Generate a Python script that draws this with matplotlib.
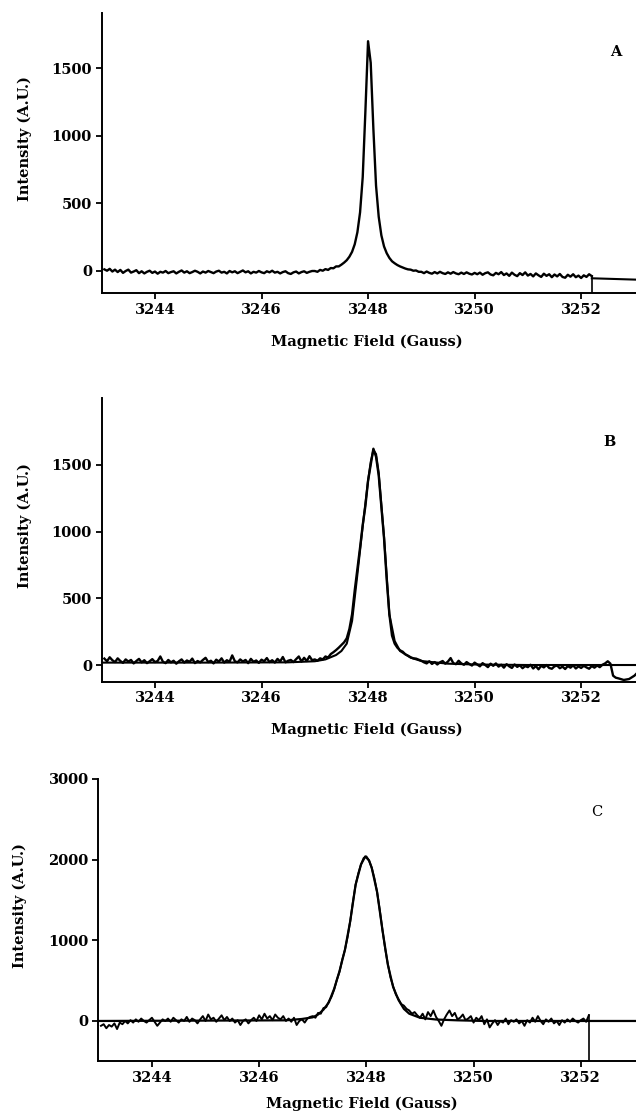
import numpy as np
import matplotlib
matplotlib.use("Agg")
import matplotlib.pyplot as plt

# ---------------- data ----------------
field_ticks = [3244, 3246, 3248, 3250, 3252]
field_tick_labels = ["3244", "3246", "3248", "3250", "3252"]
panel_letters = ["A", "B", "C"]
x_label = "Magnetic Field (Gauss)"
y_label = "Intensity (A.U.)"

# Panel A : measured trace, sampled every 0.05 G from 3243.05 to 3252.20
a_start, a_stop = 3243.05, 3252.20
a_base_left = [10, 0, 14, -6, 8, -10, 6, -16, -2, 8, -14, -6, 4, -18, -4, -20, -8, 0, -16, -6,
               -22, -8, -14, -2, -18, -10, -4, -20, -8, 2, -14, -4, -18, -10, 0, -8, -20, -6, -14, -2,
               -10, -18, -6, 0, -14, -8, -20, -2, -12, -4, -18, -8, 2, -12, -4, -20, -8, -14, -2, -12,
               -18, -4, -12, 0, -14, -8, -20, -10, -4, -18, -24, -12, -6, -20, -10, -4, -16, -8, -2]
a_peak = [-2, -8, 6, 0, 12, 6, 20, 18, 32, 32,
          45, 60, 78, 104, 140, 196, 285, 432, 694, 1180,
          1700, 1540, 1050, 630, 400, 262, 180, 130, 95, 70,
          55, 42, 32, 24, 16, 10, 8, 0, 2, -8]
a_base_right = [-8, -18, -6, -16, -22, -10, -20, -8, -18, -24, -12, -22, -10, -20, -26, -14, -24, -12, -22, -28,
                -16, -26, -14, -30, -18, -12, -28, -34, -16, -26, -10, -32, -20, -38, -14, -30, -40, -18, -32, -12,
                -36, -24, -42, -20, -34, -46, -22, -38, -26, -48, -28, -42, -24, -46, -52, -30, -44, -26, -48, -36,
                -54, -34, -46, -26, -40]
a_fit_x = [3252.20, 3253.03]
a_fit_y = [-56, -66]
a_drop_x = [3252.20, 3252.20]
a_drop_y = [-40, -165]

# Panel B : measured trace every 0.05 G from 3243.05 to 3252.50, then tail
b_start, b_stop = 3243.05, 3252.50
b_base_left = [48, 28, 58, 36, 22, 50, 30, 16, 42, 26, 38, 12, 30, 46, 20, 36, 14, 28, 44, 22,
               30, 64, 24, 14, 38, 20, 32, 10, 28, 42, 18, 34, 24, 48, 14, 30, 20, 38, 54, 22,
               32, 12, 40, 26, 50, 18, 36, 24, 72, 28, 20, 42, 26, 38, 14, 46, 24, 34, 16, 40,
               28, 52, 22, 36, 18, 46, 26, 60, 20, 32, 38, 22, 44, 64, 26, 54, 30, 66, 36]
b_peak = [42, 32, 50, 42, 64, 56, 82, 96, 112, 130,
          150, 170, 200, 270, 380, 560, 720, 880, 1050, 1190,
          1380, 1500, 1620, 1560, 1420, 1180, 950, 640, 380, 220,
          160, 130, 110, 100, 80, 70, 58, 50, 48, 40]
b_base_right = [32, 20, 12, 28, 8, 22, 4, 20, 30, 10, 26, 52, 14, 6, 32, 12, 2, 22, 8, -4,
                18, 4, -10, 14, 0, -16, 10, -6, 12, -12, 2, -20, 6, -10, -22, 4, -14, -2, -24, -8,
                -16, 2, -26, -8, -32, -6, -18, 0, -22, -28, -10, -4, -24, -12, -30, -8, -20, -2, -26, -10,
                -22, -6, -18, -28, -8, -20, -4, -16, 2, 12, 28]
b_tail_x = [3252.55, 3252.60, 3252.65, 3252.70, 3252.80, 3252.90, 3253.00, 3253.05]
b_tail_y = [10, -80, -95, -100, -112, -105, -80, -60]
b_fit_x = [3243.0, 3245.0, 3246.5, 3247.0, 3247.2, 3247.4, 3247.5, 3247.6, 3247.7, 3247.8,
           3247.9, 3248.0, 3248.05, 3248.1, 3248.15, 3248.2, 3248.3, 3248.4, 3248.5, 3248.6,
           3248.8, 3249.0, 3249.5, 3250.0, 3251.0, 3253.05]
b_fit_y = [18, 18, 20, 28, 42, 75, 105, 160, 330, 680,
           1040, 1380, 1520, 1610, 1580, 1440, 960, 380, 180, 105,
           55, 30, 10, 4, 0, 0]

# Panel C : measured trace every 0.05 G from 3243.05 to 3252.15
c_start, c_stop = 3243.05, 3252.15
c_base_left = [-60, -40, -90, -50, -70, -30, -100, -20, -40, 0, -30, 10, -20, 20, -10, 30, 0, -20, 10, 40,
               -10, -60, -20, 20, 0, 30, -10, 40, 10, -20, 20, 0, 50, -10, 30, 10, -30, 20, 60, 0,
               80, 20, 40, -10, 30, 70, 10, 50, 0, 30, -20, 10, -50, 0, 20, -30, 10, 40, 0, 70,
               20, 90, 30, 60, 10, 80, 40, 20, 60, 0, 30, -10, 40, -50, 0, 20, -20, 30, 50]
c_peak = [60, 40, 100, 90, 160, 170, 240, 300, 390, 510, 610, 760, 880, 1040, 1240, 1480, 1690, 1830, 1940, 2020,
          2040, 1990, 1900, 1770, 1600, 1380, 1130, 900, 710, 540, 430, 330, 270, 210, 190, 150, 130, 90, 110, 70]
c_base_right = [40, 90, 20, 110, 60, 130, 50, 0, -60, 20, 80, 130, 60, 100, 20, 40, 80, 10, 30, 60,
                -20, 40, 10, 60, -40, 20, -80, -30, 10, -50, 0, -20, 30, -40, 10, -10, 20, -30, 0, -60,
                10, -20, 40, -10, 60, 0, -40, 20, -10, 30, -30, 0, -50, 10, -20, 20, -10, 30, 0, -20,
                10, 30, -10, 70]
c_fit_x = [3243.0, 3246.5, 3246.8, 3247.0, 3247.1, 3247.2, 3247.3, 3247.4, 3247.5, 3247.6,
           3247.7, 3247.8, 3247.9, 3247.98, 3248.05, 3248.1, 3248.2, 3248.3, 3248.4, 3248.5,
           3248.6, 3248.7, 3248.8, 3249.0, 3249.3, 3249.7, 3250.2, 3253.06]
c_fit_y = [0, 8, 25, 45, 80, 140, 230, 400, 620, 880,
           1240, 1690, 1940, 2040, 1990, 1900, 1600, 1130, 700, 420,
           260, 150, 90, 40, 18, 8, 0, 0]
c_drop_x = [3252.15, 3252.15]
c_drop_y = [70, -500]

# ---------------- figure ----------------
plt.rcParams['font.family'] = ['DejaVu Serif']
plt.rcParams['font.weight'] = 'bold'

W, H = 636, 1114
fig = plt.figure(figsize=(W / 100, H / 100), dpi=100)


def px_axes(left, top, bottom, right=W):
    return fig.add_axes([left / W, 1 - bottom / H, (right - left) / W, (bottom - top) / H])


axA = px_axes(101.7, 13, 293)
axB = px_axes(101.7, 398, 681.7)
axC = px_axes(98.3, 779, 1061.3)

LW = 1.7
col = "black"

a_vals = a_base_left + a_peak + a_base_right
a_x = np.linspace(a_start, a_stop, len(a_vals))
axA.plot(a_x, a_vals, color=col, lw=LW, solid_joinstyle="round")
axA.plot(a_fit_x, a_fit_y, color=col, lw=1.5)
axA.plot(a_drop_x, a_drop_y, color=col, lw=1.2)

b_vals = b_base_left + b_peak + b_base_right
b_x = np.linspace(b_start, b_stop, len(b_vals))
axB.plot(np.concatenate([b_x, b_tail_x]), b_vals + b_tail_y, color=col, lw=LW, solid_joinstyle="round")
axB.plot(b_fit_x, b_fit_y, color=col, lw=1.5)

c_vals = c_base_left + c_peak + c_base_right
c_x = np.linspace(c_start, c_stop, len(c_vals))
axC.plot(c_x, c_vals, color=col, lw=1.4, solid_joinstyle="round")
axC.plot(c_fit_x, c_fit_y, color=col, lw=1.6)
axC.plot(c_drop_x, c_drop_y, color=col, lw=1.2)

settings = [
    (axA, (-165, 1909), [0, 500, 1000, 1500], (0.9626, 0.862), -0.1435, -0.175, 0.496),
    (axB, (-125, 2000), [0, 500, 1000, 1500], (0.9495, 0.846), -0.1435, -0.17, 0.496),
    (axC, (-500, 3000), [0, 1000, 2000, 3000], (0.9275, 0.883), -0.1456, -0.152, 0.491),
]

for (ax, ylim, yt, letter_pos, ylab_x, xlab_y, xlab_x), letter in zip(settings, panel_letters):
    ax.set_xlim(3243.0, 3253.03)
    ax.set_ylim(*ylim)
    ax.set_xticks(field_ticks)
    ax.set_xticklabels(field_tick_labels)
    ax.set_yticks(yt)
    ax.set_yticklabels([str(v) for v in yt])
    for s in ("top", "right"):
        ax.spines[s].set_visible(False)
    for s in ("left", "bottom"):
        ax.spines[s].set_linewidth(1.4)
    ax.tick_params(direction="out", length=4, width=1.3, labelsize=10.5, pad=3)
    for lab in ax.get_xticklabels() + ax.get_yticklabels():
        lab.set_fontweight("bold")
    ax.set_ylabel(y_label, fontsize=10.5, fontweight="bold")
    ax.yaxis.label.set_va("center")
    ax.yaxis.set_label_coords(ylab_x, 0.55)
    ax.set_xlabel(x_label, fontsize=10.5, fontweight="bold")
    ax.xaxis.label.set_va("center")
    ax.xaxis.set_label_coords(xlab_x, xlab_y)
    ax.text(letter_pos[0], letter_pos[1], letter, transform=ax.transAxes,
            ha="center", va="center", fontsize=10.5,
            fontweight="bold" if letter != "C" else "normal")
    ax.patch.set_alpha(0)

fig.savefig("out.png", dpi=100, facecolor="white")
